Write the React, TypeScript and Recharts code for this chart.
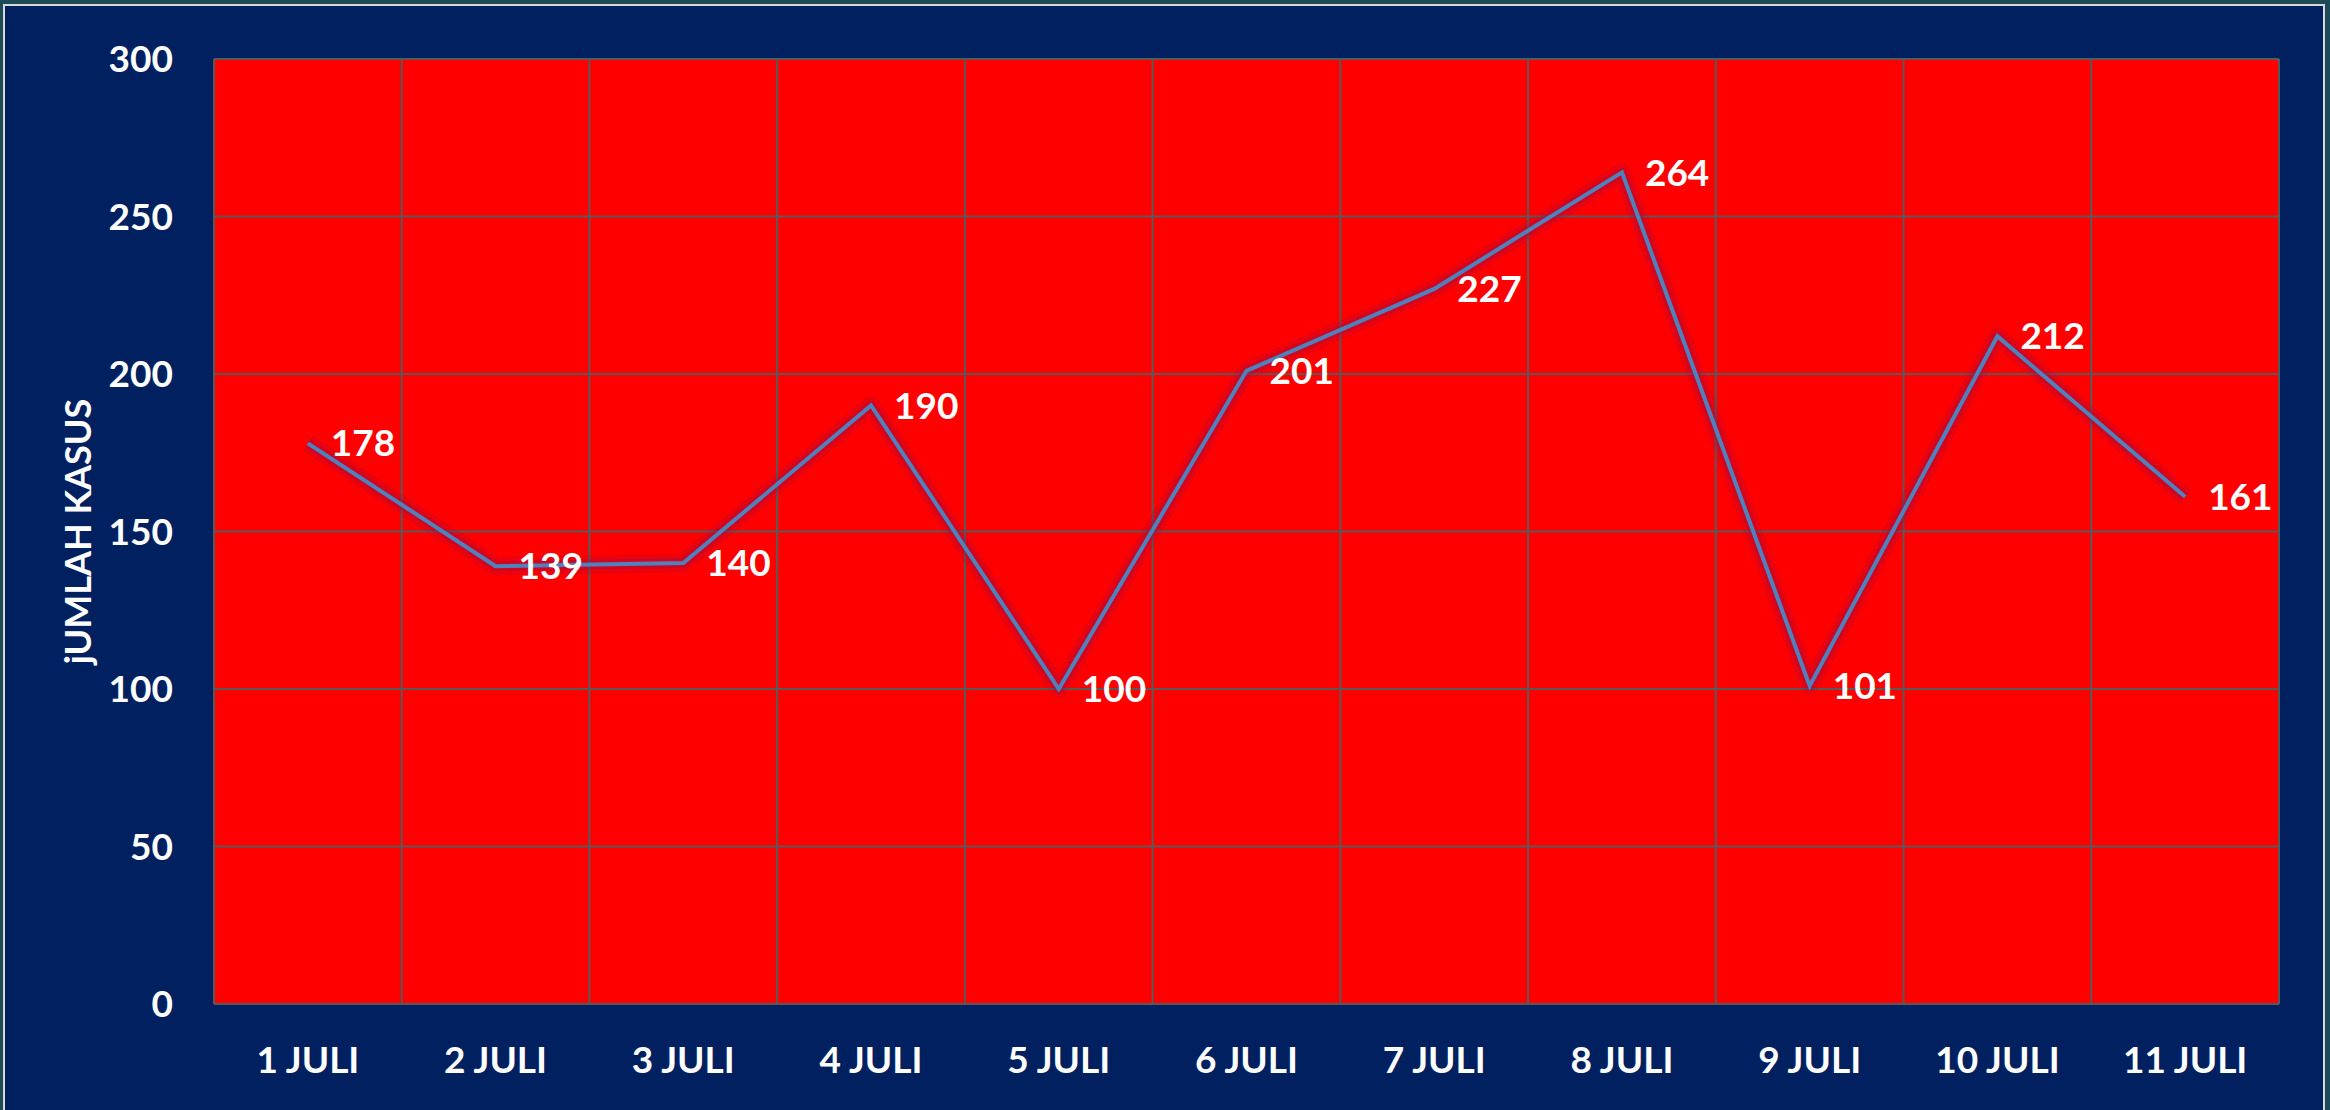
import {
    LineChart, Line, XAxis, YAxis, CartesianGrid, LabelList,
} from 'recharts';

// Jumlah kasus harian, 1-11 Juli
const days = [
    '1 JULI', '2 JULI', '3 JULI', '4 JULI', '5 JULI', '6 JULI',
    '7 JULI', '8 JULI', '9 JULI', '10 JULI', '11 JULI',
];
const cases = [178, 139, 140, 190, 100, 201, 227, 264, 101, 212, 161];
const yTicks = [0, 50, 100, 150, 200, 250, 300];

const data = days.map((day, i) => ({ day, cases: cases[i] }));

const W = 2330;
const H = 1110;
const font = 'Lato, "Open Sans", sans-serif';

export default function App() {
    return (
        <div style={{ position: 'fixed', left: 0, top: 0, width: W, height: H, background: '#1d4b57', overflow: 'hidden' }}>
            <div
                style={{
                    position: 'absolute', left: 3, top: 4, width: 2322, height: 1130,
                    border: '2px solid #d9d9d9', background: '#002060', boxSizing: 'border-box',
                }}
            />
            <div style={{ position: 'absolute', left: 0, top: 0 }}>
                <LineChart
                    width={W}
                    height={H}
                    data={data}
                    margin={{ top: 59, right: 51, left: 0, bottom: 0 }}
                >
                    <CartesianGrid
                        fill="#ff0000"
                        stroke="#595959"
                        strokeWidth={2}
                        verticalCoordinatesGenerator={({ offset }: any) =>
                            Array.from({ length: days.length + 1 }, (_, i) => offset.left + (i * offset.width) / days.length)
                        }
                    />
                    <XAxis
                        dataKey="day"
                        scale="band"
                        height={106}
                        axisLine={false}
                        tickLine={false}
                        tickSize={0}
                        tickMargin={43}
                        interval={0}
                        tick={{ fill: '#ffffff', fontSize: 37, fontWeight: 700, fontFamily: font }}
                    />
                    <YAxis
                        domain={[0, 300]}
                        ticks={yTicks}
                        width={214}
                        axisLine={false}
                        tickLine={false}
                        tickSize={0}
                        tickMargin={41}
                        tick={{ fill: '#ffffff', fontSize: 37, fontWeight: 700, fontFamily: font }}
                        label={{
                            value: 'jUMLAH KASUS',
                            angle: -90,
                            position: 'insideLeft',
                            offset: 78,
                            textAnchor: 'middle',
                            fill: '#ffffff',
                            fontSize: 36,
                            fontWeight: 700,
                            fontFamily: font,
                        }}
                    />
                    {/* glow under the line, as in the Excel original */}
                    <Line
                        type="linear"
                        dataKey="cases"
                        stroke="#8a1050"
                        strokeOpacity={0.18}
                        strokeWidth={18}
                        strokeLinejoin="round"
                        dot={false}
                        activeDot={false}
                        isAnimationActive={false}
                    />
                    <Line
                        type="linear"
                        dataKey="cases"
                        stroke="#8a1050"
                        strokeOpacity={0.3}
                        strokeWidth={10}
                        strokeLinejoin="round"
                        dot={false}
                        activeDot={false}
                        isAnimationActive={false}
                    />
                    <Line
                        type="linear"
                        dataKey="cases"
                        stroke="#4f81bd"
                        strokeWidth={4}
                        dot={false}
                        isAnimationActive={false}
                    >
                        <LabelList
                            dataKey="cases"
                            position="right"
                            offset={23}
                            fill="#ffffff"
                            fontSize={37}
                            fontWeight={700}
                            fontFamily={font}
                        />
                    </Line>
                </LineChart>
            </div>
        </div>
    );
}
